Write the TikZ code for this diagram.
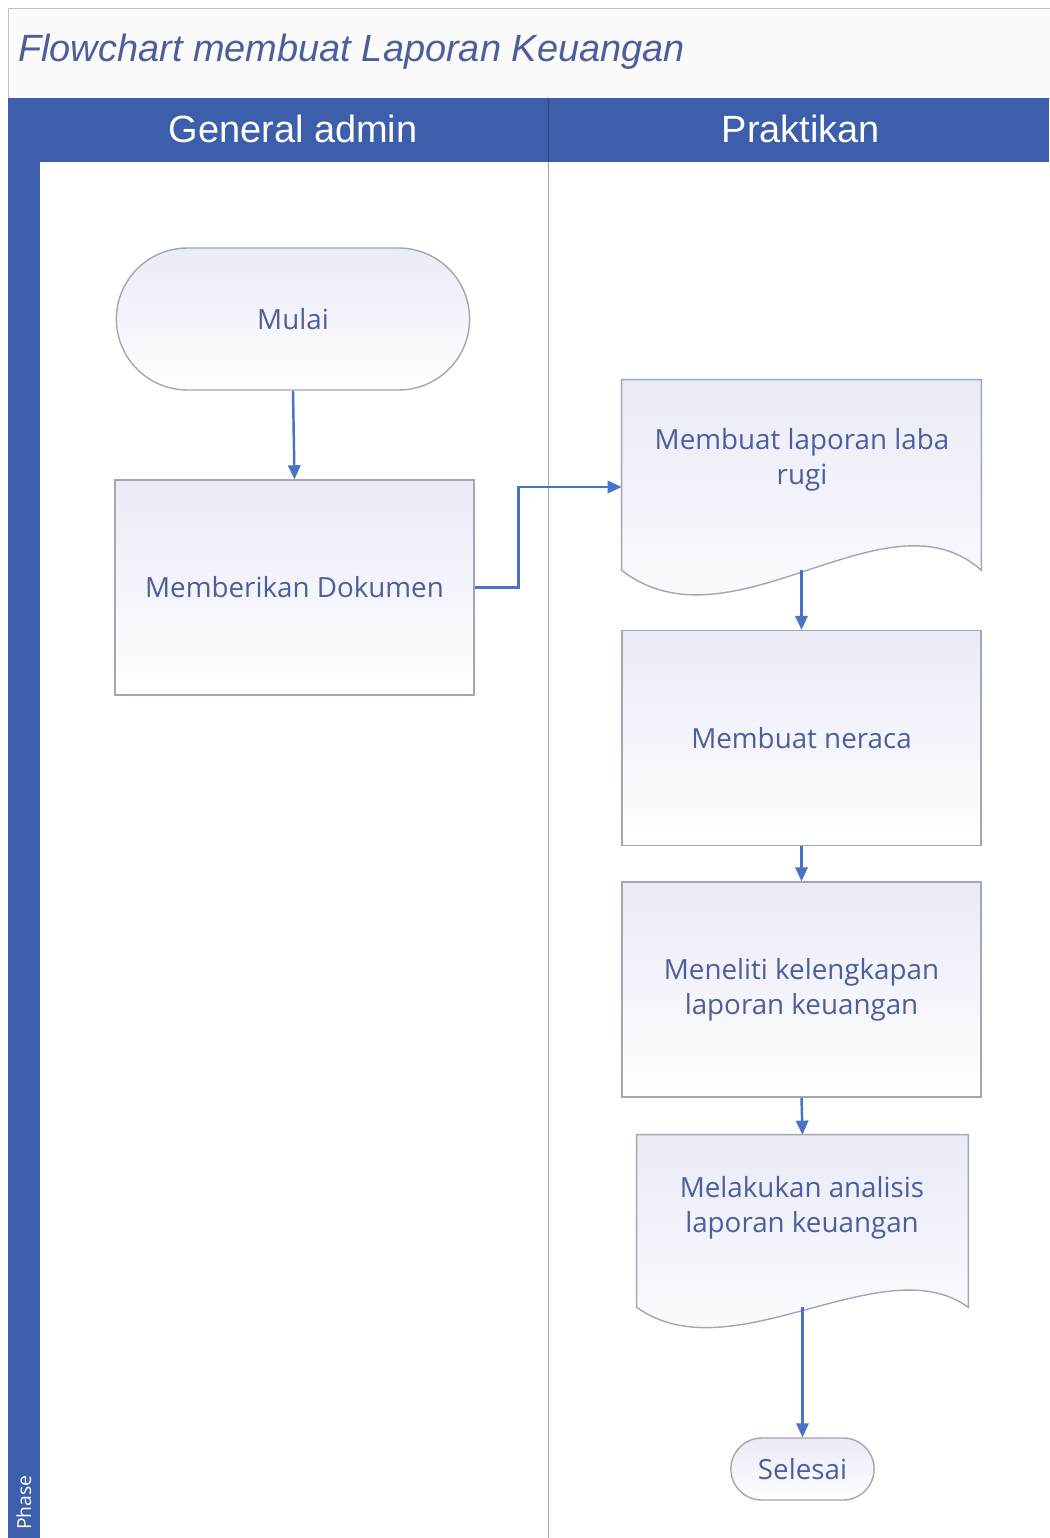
\documentclass[tikz,border=0pt]{standalone}
\usepackage{fontspec}
\setmainfont{Open Sans}
\newfontfamily\headfont{Liberation Sans}
\usetikzlibrary{arrows.meta,shapes.misc}

\definecolor{laneblue}{HTML}{3C5EAB}
\definecolor{txtblue}{HTML}{4D5E9C}
\definecolor{lineblue}{HTML}{4673C3}
\definecolor{boxgray}{HTML}{A3A7B3}
\definecolor{boxtint}{HTML}{E9EBF7}

\begin{document}
\begin{tikzpicture}
  [x=0.02cm,y=-0.02cm,
   every node/.style={text=txtblue,align=center,font=\fontsize{15.8}{19.8}\selectfont},
   procbox/.style={draw=boxgray,line width=0.8pt,top color=boxtint,bottom color=white,
     minimum width=7.18cm,minimum height=4.3cm},
   termbox/.style={rounded rectangle,draw=boxgray,line width=0.8pt,top color=boxtint,bottom color=white},
   docbox/.style={inner sep=0pt,minimum width=7.18cm,minimum height=3.8cm},
   docline/.style={draw=boxgray,line width=0.8pt,top color=boxtint,bottom color=white},
   conn/.style={draw=lineblue,line width=1.4pt,-{Triangle[length=8pt,width=7pt]}}]
  \useasboundingbox (0,0) rectangle (1049,1538);
  \fill[white] (0,0) rectangle (1049,1538);

  % swimlane frame
  \draw[boxgray!70,fill=gray!3] (8,8) rectangle (1060,98);
  \fill[laneblue] (8,98) rectangle (1049,162);
  \fill[laneblue] (8,98) rectangle (40,1538);
  \draw[laneblue!70!black] (548,98) -- (548,162);
  \draw[boxgray] (548,162) -- (548,1538);

  \node[anchor=west,font=\headfont\itshape\fontsize{21.6}{24}\selectfont] (title) at (12,52) {Flowchart membuat Laporan Keuangan};
  \node[text=white,font=\headfont\fontsize{21.6}{24}\selectfont] (admin) at (293,129) {General admin};
  \node[text=white,font=\headfont\fontsize{21.6}{24}\selectfont] (praktikan) at (801,129) {Praktikan};
  \node[text=white,rotate=90,anchor=west,font=\fontsize{11}{13}\selectfont] (phase) at (24,1536) {Phase};

  % shapes
  \node[termbox,minimum width=7.3cm,minimum height=2.84cm] (mulai) at (293,319) {Mulai};
  \node[procbox] (dokumen) at (294.5,587.5) {Memberikan Dokumen};

  \node[docbox] (laba) at (801.5,475) {};
  \path[docline] (laba.north west) -- (laba.north east) -- (laba.south east)
    .. controls +(-95,-85) and +(110,85) .. (laba.south west) -- cycle;
  \node (labatxt) at (802,460) {Membuat laporan laba\\rugi};

  \node[procbox] (neraca) at (801.5,738) {Membuat neraca};
  \node[procbox] (teliti) at (801.5,989.5) {Meneliti kelengkapan\\laporan keuangan};

  \node[docbox,minimum width=6.62cm,minimum height=3.44cm] (analisis) at (802.5,1221) {};
  \path[docline] (analisis.north west) -- (analisis.north east) -- (analisis.south east)
    .. controls +(-85,-62) and +(95,68) .. (analisis.south west) -- cycle;
  \node (analisistxt) at (802,1208) {Melakukan analisis\\laporan keuangan};

  \node[termbox,minimum width=3.1cm,minimum height=1.24cm] (selesai) at (802.5,1469) {Selesai};

  % connectors
  \foreach \from/\to in {mulai/dokumen,laba/neraca,neraca/teliti,teliti/analisis,analisis/selesai}
    \draw[conn] (\from.south) -- (\to.north);
  \draw[conn] (dokumen.east) -- ++(44,0) |- ([yshift=-0.24cm]laba.west);

\end{tikzpicture}
\end{document}
